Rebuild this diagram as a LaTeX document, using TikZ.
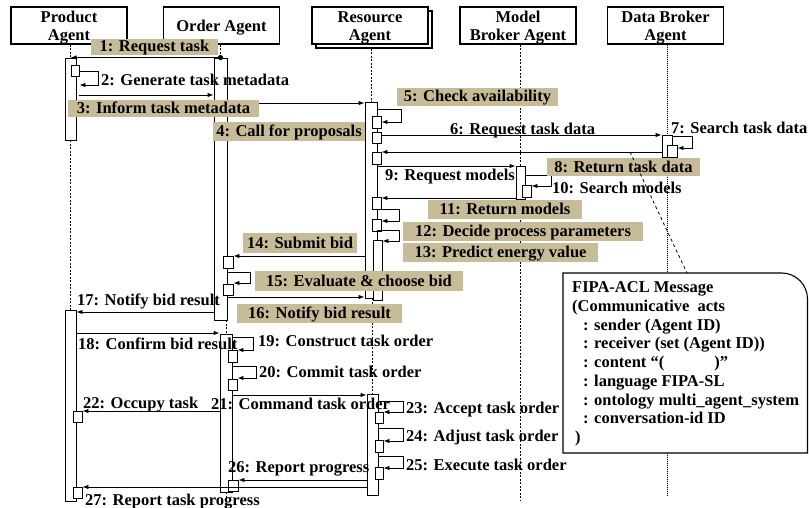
\documentclass[tikz,border=0pt]{standalone}
\usepackage{fontspec}
\setmainfont{Liberation Serif}
\usetikzlibrary{arrows.meta}
\definecolor{tanbg}{RGB}{200,188,152}
\newcommand\lblfont{\fontsize{16.5}{18.75}\selectfont\bfseries}
\begin{document}
\begin{tikzpicture}[x=1pt,y=-1pt,
  every node/.style={font=\lblfont},
  head/.style={draw, line width=1.1pt, fill=white, minimum width=116pt, minimum height=37pt, inner sep=0pt},
  headtxt/.style={inner sep=0pt, align=center, font=\fontsize{16.5}{18}\selectfont\bfseries},
  bar/.style={draw, line width=0.9pt, fill=white, inner sep=0pt},
  life/.style={line width=0.8pt, dash pattern=on 2pt off 1.5pt},
  dotlife/.style={line width=0.8pt, dash pattern=on 1pt off 1pt},
  msg/.style={line width=0.9pt, -{Latex[length=6pt,width=4.5pt]}},
  lbl/.style={fill=tanbg, inner sep=0pt, text height=13pt, text depth=3pt},
  txt/.style={inner sep=0pt, anchor=base west},
]
\useasboundingbox (0,0) rectangle (809,508);

% headers
\node[head] (hP) at (69,25.5) {};
\node[head] (hO) at (221.5,25.5) {};
\node[head] (hRs) at (374,29.5) {};
\node[head] (hR) at (370,25.5) {};
\node[head] (hM) at (518,25.5) {};
\node[head] (hD) at (665.5,25.5) {};
\node[headtxt] (hPt) at (69,28) {Product\\Agent};
\node[headtxt] (hOt) at (221.5,28) {Order Agent};
\node[headtxt] (hRt) at (370,28) {Resource\\Agent};
\node[headtxt] (hMt) at (518,28) {Model\\Broker Agent};
\node[headtxt] (hDt) at (665.5,28) {Data Broker\\Agent};

% activation bars (positions)
\path
  node[bar, minimum width=11pt, minimum height=82pt] (pA1) at (70.5,99) {}
  node[bar, minimum width=11pt, minimum height=191pt] (pA2) at (70.5,405.5) {}
  node[bar, minimum width=13pt, minimum height=262pt] (oA1) at (220.5,189) {}
  node[bar, minimum width=12pt, minimum height=158pt] (oA2) at (226,413) {}
  node[bar, minimum width=12pt, minimum height=196pt] (rA1) at (371,200) {}
  node[bar, minimum width=11pt, minimum height=101pt] (rA2) at (372.5,444.5) {}
  node[bar, minimum width=9pt, minimum height=33pt] (mA) at (520.5,182.5) {}
  node[bar, minimum width=10pt, minimum height=22pt] (dA) at (667,146) {};

% lifelines
\draw[life] (pA1.north |- hP.south) -- (pA1.north);
\draw[life] (pA2.north |- pA1.south) -- (pA2.north);
\draw[life] (oA1.north |- hO.south) -- (oA1.north);
\draw[life] (oA2.north |- oA1.south) -- (oA2.north);
\draw[life] (oA2.south) -- (oA2.south |- 0,508);
\draw[life] (rA1.north |- hRs.south) -- (rA1.north);
\draw[life] (rA2.north |- rA1.south) -- (rA2.north);
\draw[life] (mA.north |- hM.south) -- (mA.north |- 0,500);
\draw[dotlife] (dA.north |- hD.south) -- (dA.north |- 0,495);

% bars drawn over lifelines
\node[bar, minimum width=11pt, minimum height=82pt] at (pA1) {};
\node[bar, minimum width=11pt, minimum height=191pt] at (pA2) {};
\node[bar, minimum width=13pt, minimum height=262pt] at (oA1) {};
\node[bar, minimum width=12pt, minimum height=158pt] at (oA2) {};
\node[bar, minimum width=12pt, minimum height=196pt] at (rA1) {};
\node[bar, minimum width=11pt, minimum height=101pt] at (rA2) {};
\node[bar, minimum width=9pt, minimum height=33pt] at (mA) {};
\node[bar, minimum width=10pt, minimum height=22pt] at (dA) {};

% small execution boxes
\node[bar, minimum width=8pt, minimum height=11pt] (pA1s) at (75,70.5) {};
\node[bar, minimum width=9pt, minimum height=11pt] (pA2a) at (77.5,416.5) {};
\node[bar, minimum width=9pt, minimum height=11pt] (pA2b) at (77.5,492.5) {};
\node[bar, minimum width=10pt, minimum height=12pt] (oA1a) at (228,262) {};
\node[bar, minimum width=10pt, minimum height=11pt] (oA1b) at (228,289.5) {};
\node[bar, minimum width=9pt, minimum height=12pt] (oA2a) at (232.5,356) {};
\node[bar, minimum width=9pt, minimum height=11pt] (oA2b) at (232.5,384.5) {};
\node[bar, minimum width=10pt, minimum height=11pt] (oA2c) at (233,485.5) {};
\node[bar, minimum width=9pt, minimum height=12pt] (rA1a) at (376.5,122) {};
\node[bar, minimum width=9pt, minimum height=11pt] (rA1b) at (376.5,137.5) {};
\node[bar, minimum width=9pt, minimum height=12pt] (rA1c) at (376.5,158) {};
\node[bar, minimum width=9pt, minimum height=12pt] (rA1d) at (376.5,203) {};
\node[bar, minimum width=9pt, minimum height=12pt] (rA1e) at (376.5,225) {};
\node[bar, minimum width=9pt, minimum height=60pt] (rA1f) at (377.5,270) {};
\node[bar, minimum width=8pt, minimum height=11pt] (rA2a) at (379,417.5) {};
\node[bar, minimum width=8pt, minimum height=12pt] (rA2b) at (379,446) {};
\node[bar, minimum width=8pt, minimum height=12pt] (rA2c) at (379,473) {};
\node[bar, minimum width=9pt, minimum height=12pt] (mAa) at (526.5,191) {};
\node[bar, minimum width=10pt, minimum height=12pt] (dAa) at (672,151) {};

% messages
\draw[msg] (oA1.north) -- (pA1.north);
\fill (oA1.north) circle (2.6pt);
\draw[msg] (pA1s.east |- 0,71) -| (98,85) -- (pA1s.east |- 0,85);
\draw[msg] (pA1s.east |- 0,95) -- (oA1.west |- 0,95);
\draw[msg] (oA1.east |- 0,103) -- (rA1.west |- 0,103);
\draw[msg] (rA1.east |- 0,109) -| (401,122) -- (rA1a.east |- 0,122);
\draw[msg] (rA1b.east |- 0,135) -- (dA.west |- 0,135);
\draw[msg] (dA.east |- 0,136) -| (692,148) -- (dAa.east |- 0,148);
\draw[msg] (dA.west |- 0,152) -- (rA1c.east |- 0,152);
\draw[msg] (rA1.east |- 0,166) -- (mA.west |- 0,166);
\draw[msg] (mA.east |- 0,175) -| (551,186) -- (mAa.east |- 0,186);
\draw[msg] (mA.west |- 0,198) -- (rA1d.east |- 0,198);
\draw[msg] (rA1.east |- 0,209) -| (399,221) -- (rA1e.east |- 0,221);
\draw[msg] (rA1.east |- 0,230) -| (399,241) -- (rA1f.east |- 0,241);
\draw[msg] (rA1.west |- 0,256) -- (oA1a.east |- 0,256);
\draw[msg] (oA1.east |- 0,272) -| (250,283) -- (oA1b.east |- 0,283);
\draw[msg] (oA1.east |- 0,297) -- (rA1.west |- 0,297);
\draw[msg] (oA1.west |- 0,312) -- (pA2.east |- 0,312);
\draw[msg] (pA2.east |- 0,333) -- (oA2.west |- 0,333);
\draw[msg] (oA2.east |- 0,337) -| (253,350) -- (oA2a.east |- 0,350);
\draw[msg] (oA2.east |- 0,366) -| (256,378) -- (oA2b.east |- 0,378);
\draw[msg] (oA2.east |- 0,395) -- (rA2.west |- 0,395);
\draw[msg] (oA2.west |- 0,411) -- (pA2a.east |- 0,411);
\draw[msg] (rA2.east |- 0,401) -| (403,412) -- (rA2a.east |- 0,412);
\draw[msg] (rA2.east |- 0,428) -| (403,441) -- (rA2b.east |- 0,441);
\draw[msg] (rA2.east |- 0,456) -| (403,468) -- (rA2c.east |- 0,468);
\draw[msg] (rA2.west |- 0,480) -- (oA2c.east |- 0,480);
\draw[msg] (rA2.west |- 0,487) -- (pA2b.east |- 0,487);

% plain labels
\node[txt] (t2) at (101,85.5) {2: Generate task metadata};
\node[txt] (t6) at (450,134.5) {6: Request task data};
\node[txt] (t7) at (671,133.5) {7: Search task data};
\node[txt] (t9) at (385,180.5) {9: Request models};
\node[txt] (t10) at (552,193.5) {10: Search models};
\node[txt] (t17) at (77,305.5) {17: Notify bid result};
\node[txt] (t18) at (78,349.5) {18: Confirm bid result};
\node[txt] (t19) at (258,346.5) {19: Construct task order};
\node[txt] (t20) at (259,377.5) {20: Commit task order};
\node[txt] (t21) at (211,409.5) {21: Command task order};
\node[txt] (t22) at (83,408.5) {22: Occupy task};
\node[txt] (t23) at (406,413.5) {23: Accept task order};
\node[txt] (t24) at (406,441.5) {24: Adjust task order};
\node[txt] (t25) at (406,470.5) {25: Execute task order};
\node[txt] (t26) at (228,472.5) {26: Report progress};
\node[txt] (t27) at (85,505) {27: Report task progress};

% shaded labels
\node[lbl, minimum width=127pt, minimum height=16pt] (l1) at (154.5,47) {1: Request task};
\node[lbl, minimum width=191pt, minimum height=17pt] (l3) at (163.5,108.5) {3: Inform task metadata};
\node[lbl, minimum width=152pt, minimum height=19pt] (l4) at (289,131.5) {4: Call for proposals};
\node[lbl, minimum width=161pt, minimum height=18pt] (l5) at (477.5,97) {5: Check availability};
\node[lbl, minimum width=153pt, minimum height=18pt] (l8) at (623.5,167) {8: Return task data};
\node[lbl, minimum width=154pt, minimum height=19pt] (l11) at (505,209.5) {11: Return models};
\node[lbl, minimum width=240pt, minimum height=19pt] (l12) at (523,231.5) {12: Decide process parameters};
\node[lbl, minimum width=195pt, minimum height=19pt] (l13) at (500.5,252.5) {13: Predict energy value};
\node[lbl, minimum width=114pt, minimum height=20pt] (l14) at (300,243) {14: Submit bid};
\node[lbl, minimum width=208pt, minimum height=20pt] (l15) at (359,281) {15: Evaluate \& choose bid};
\node[lbl, minimum width=165pt, minimum height=19pt] (l16) at (319.5,313.5) {16: Notify bid result};

% FIPA-ACL note
\draw[line width=1.1pt, fill=white] (563,453) -- (563,273) -- (781.5,273)
  .. controls (795.9,273) and (807.5,284.6) .. (807.5,299) -- (807.5,453) -- cycle;
\coordinate (fipa) at (687,273);
\coordinate (n8) at (630,152);
\draw[line width=0.8pt, dashed] (n8) -- (fipa);
\node[txt] (f1) at (572,292.5) {FIPA-ACL Message};
\node[txt] (f2) at (572,311.25) {(Communicative\hspace{4pt} acts};
\node[txt] (f3) at (583,330) {: sender (Agent ID)};
\node[txt] (f4) at (583,348.75) {: receiver (set (Agent ID))};
\node[txt] (f5) at (583,367.5) {: content “(\hspace{50pt})”};
\node[txt] (f6) at (583,386.25) {: language FIPA-SL};
\node[txt] (f7) at (583,405) {: ontology multi\_agent\_system};
\node[txt] (f8) at (583,423.75) {: conversation-id ID};
\node[txt] (f9) at (575,442.5) {)};
\end{tikzpicture}
\end{document}
